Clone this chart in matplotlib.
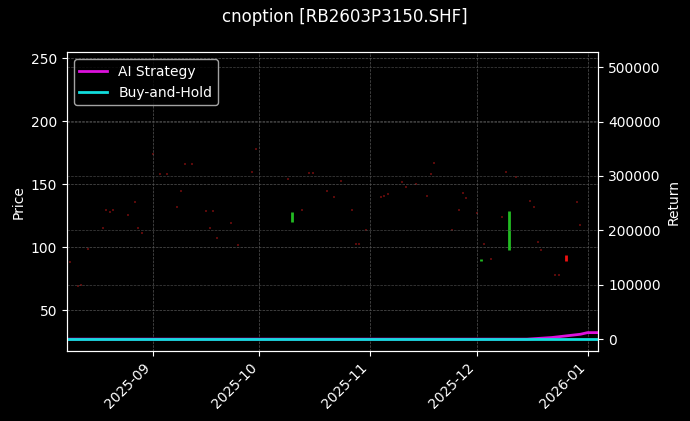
import matplotlib.pyplot as plt
import matplotlib.dates as mdates
import pandas as pd

# price marks (tiny candles)
dates = ['2025-08-09', '2025-08-11', '2025-08-12', '2025-08-14', '2025-08-18', '2025-08-19',
         '2025-08-20', '2025-08-21', '2025-08-25', '2025-08-27', '2025-08-28', '2025-08-29',
         '2025-09-01', '2025-09-03', '2025-09-05', '2025-09-08', '2025-09-09', '2025-09-10',
         '2025-09-12', '2025-09-16', '2025-09-17', '2025-09-18', '2025-09-19', '2025-09-23',
         '2025-09-25', '2025-09-29', '2025-09-30', '2025-10-09', '2025-10-13', '2025-10-15',
         '2025-10-16', '2025-10-20', '2025-10-22', '2025-10-24', '2025-10-27', '2025-10-28',
         '2025-10-29', '2025-10-31', '2025-11-04', '2025-11-05', '2025-11-06', '2025-11-10',
         '2025-11-11', '2025-11-14', '2025-11-17', '2025-11-18', '2025-11-19', '2025-11-24',
         '2025-11-26', '2025-11-27', '2025-11-28', '2025-12-01', '2025-12-03', '2025-12-05',
         '2025-12-08', '2025-12-09', '2025-12-12', '2025-12-16', '2025-12-17', '2025-12-18',
         '2025-12-19', '2025-12-23', '2025-12-24', '2025-12-29', '2025-12-30']
prices = [88, 69, 70, 99, 115, 130, 128, 130, 126, 136, 115, 111,
          174, 158, 158, 132, 145, 166, 166, 129, 115, 129, 107, 119,
          102, 160, 178, 154, 130, 159, 159, 145, 140, 153, 130, 103,
          103, 114, 140, 141, 142, 152, 148, 150, 141, 158, 167, 114,
          130, 143, 139, 127, 103, 91, 124, 160, 156, 137, 132, 104,
          98, 78, 78, 136, 118]

# visible bodies: (date, open, close)
green_dates = ['2025-10-10', '2025-12-02', '2025-12-10']
green_open = [120, 89, 98]
green_close = [128, 91, 129]
red_dates = ['2025-12-26']
red_open = [94]
red_close = [89]

ret_dates = ['2025-08-08', '2025-12-15', '2025-12-22', '2025-12-26', '2025-12-30', '2026-01-01', '2026-01-04']
ai_ret = [0, 0, 3000, 6000, 9000, 12000, 12000]
bh_ret = [0, 0, 0, 0, 0, 0, 0]

plt.style.use('dark_background')
fig, ax = plt.subplots(figsize=(6.9, 4.21), dpi=100)
fig.subplots_adjust(left=0.097, right=0.867, top=0.876, bottom=0.166)

d = pd.to_datetime(dates)
ax.scatter(d, prices, s=3, color='#5a0a0a', marker='s', linewidths=0)
ax.vlines(pd.to_datetime(green_dates), green_open, green_close, color='#22bb22', linewidth=2)
ax.vlines(pd.to_datetime(red_dates), red_open, red_close, color='#ee1111', linewidth=2)
ax.set_ylim(17.5, 255)
ax.set_ylabel('Price')
ax.grid(True, linestyle='--', linewidth=0.5, color='#555555')

ax2 = ax.twinx()
rd = pd.to_datetime(ret_dates)
ax2.plot(rd, ai_ret, color='#dd11dd', linewidth=2, label='AI Strategy')
ax2.plot(rd, bh_ret, color='#11dddd', linewidth=2, label='Buy-and-Hold')
ax2.set_ylim(-22000, 527600)
ax2.set_ylabel('Return')
ax2.grid(True, linestyle='--', linewidth=0.5, color='#444444')
ax2.legend(loc='upper left')

ax.set_xlim(pd.Timestamp('2025-08-08'), pd.Timestamp('2026-01-04'))
ax.xaxis.set_major_locator(mdates.MonthLocator())
ax.xaxis.set_major_formatter(mdates.DateFormatter('%Y-%m'))
plt.setp(ax.get_xticklabels(), rotation=45, ha='right')

fig.suptitle('cnoption [RB2603P3150.SHF]', fontsize=12)
fig.savefig('out.png')
